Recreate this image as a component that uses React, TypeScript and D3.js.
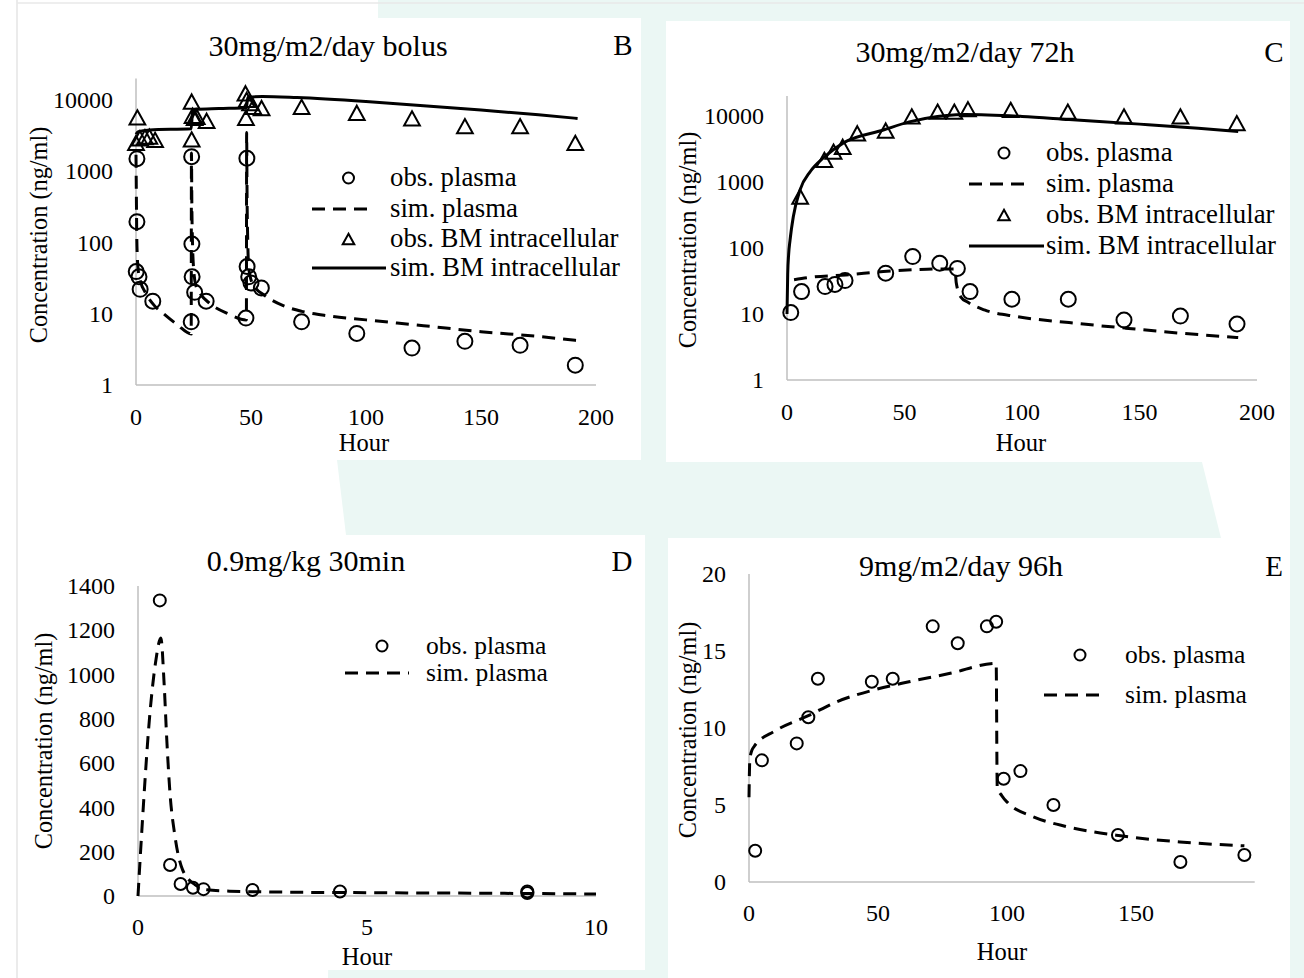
import React from "react";
import * as d3 from "d3";

type Pt = [number, number];

const FONT = "'Liberation Serif', 'Times New Roman', Times, serif";
const TEAL = "#ebf7f4";
const AXIS_COLOR = "#bfbfbf";

// ---------- Panel B: 30mg/m2/day bolus ----------
const bolusObsPlasma: Pt[] = [
  [0.4, 1500], [0.4, 196], [0.1, 39], [1.3, 33], [1.8, 22], [7.3, 15],
  [24, 7.7], [24.2, 1600], [24.3, 95], [24.4, 33], [25.5, 20], [30.5, 15],
  [47.8, 8.7], [48.2, 1520], [48.3, 46], [49, 33], [50, 27], [54.5, 23],
  [72, 7.7], [96, 5.3], [120, 3.3], [143, 4.1], [167, 3.6], [191, 1.9],
];
const bolusSimPlasma: Pt[] = [
  [0, 1700], [0.15, 500], [0.3, 150], [0.6, 60], [1, 40], [2, 28], [4, 20], [8, 13], [12, 10], [18, 7], [24, 5.2],
  [24.1, 1800], [24.3, 300], [24.6, 90], [25, 45], [26, 25], [28, 19], [32, 14], [40, 10], [48, 8.2],
  [48.1, 3500], [48.3, 400], [48.6, 100], [49, 45], [50, 30], [52, 23], [56, 18], [64, 13], [72, 10.8],
  [84, 9.3], [100, 8.2], [125, 6.8], [150, 5.6], [175, 4.8], [192, 4.2],
];
const bolusObsBM: Pt[] = [
  [0.6, 5700], [0, 2500], [1.7, 2900], [3.9, 3000], [5.8, 3050], [8.3, 2750],
  [24.2, 9500], [24.2, 2800], [24.6, 6000], [25.5, 5600], [26.4, 5800], [30.7, 5100],
  [47.6, 12400], [48.1, 10000], [49.6, 9000], [51, 8000], [47.8, 5600], [54.6, 7700],
  [72, 8000], [96, 6600], [120, 5500], [143, 4300], [167, 4300], [191, 2500],
];
const bolusSimBM: Pt[] = [
  [0, 3300], [1, 3600], [6, 3800], [24, 3950], [24.6, 7000], [26, 7400], [36, 7600], [48, 7800],
  [48.6, 10800], [55, 11200], [70, 10800], [100, 9500], [125, 8300], [150, 7200], [175, 6200], [192, 5500],
];

// ---------- Panel C: 30mg/m2/day 72h ----------
const c72ObsPlasma: Pt[] = [
  [1.6, 10.5], [6.2, 21.8], [16.2, 26], [20.4, 28], [24.7, 32], [42, 41.5], [53.5, 74], [65, 58.6],
  [72.5, 49], [77.9, 21.8], [95.7, 16.7], [119.7, 16.7], [143.4, 8.1], [167.4, 9.3], [191.5, 7.05],
];
const c72SimPlasma: Pt[] = [
  [3, 33], [10, 36], [25, 39], [41, 44], [55, 47], [64, 48], [71.5, 48], [72, 30], [74, 18], [77, 15],
  [84, 11.5], [98, 9.1], [120, 7.4], [144, 6.1], [168, 5.1], [192, 4.4],
];
const c72ObsBM: Pt[] = [
  [5.6, 600], [15.9, 2150], [19.8, 2880], [23.7, 3400], [29.9, 5450], [42, 6000], [53.1, 9800],
  [64.1, 11600], [71.2, 11600], [77, 12600], [95.2, 12300], [119.5, 11600], [143.4, 9800],
  [167.4, 9800], [191.4, 7740],
];
const c72SimBM: Pt[] = [
  [0, 10], [0.3, 40], [0.7, 80], [1.3, 132], [2.7, 300], [5.5, 750], [10, 1450], [15.4, 2300],
  [24, 3900], [41, 6100], [52, 8100], [64, 9800], [72, 10400], [76, 10500], [100, 9800],
  [120, 8800], [150, 7500], [175, 6500], [192, 5800],
];

// ---------- Panel D: 0.9mg/kg 30min ----------
const d30ObsPlasma: Pt[] = [
  [0.476, 1335], [0.7, 140], [0.93, 54], [1.2, 37], [1.43, 31], [2.5, 27], [4.41, 20], [8.5, 20], [8.5, 13],
];
const d30SimPlasma: Pt[] = [
  [0, 0], [0.1, 350], [0.25, 800], [0.38, 1050], [0.5, 1165], [0.57, 960], [0.63, 700], [0.7, 460],
  [0.8, 280], [0.97, 120], [1.25, 50], [1.5, 28], [2, 22], [3, 18], [5, 15], [8, 12], [10, 9],
];

// ---------- Panel E: 9mg/m2/day 96h ----------
const e96ObsPlasma: Pt[] = [
  [2.4, 2.03], [5, 7.9], [18.5, 9.0], [23, 10.7], [26.7, 13.2], [47.6, 13.0], [55.7, 13.2], [71.2, 16.6],
  [80.9, 15.5], [92.2, 16.6], [95.8, 16.9], [98.7, 6.7], [105.2, 7.2], [118, 5.0], [143, 3.05],
  [167.2, 1.3], [192, 1.75],
];
const e96SimPlasma: Pt[] = [
  [0, 5.5], [0.3, 7.9], [1, 8.5], [2, 8.8], [10, 9.8], [23, 10.8], [34, 11.7], [49, 12.5], [62, 13.0],
  [78, 13.55], [95.8, 14.2], [96.2, 6.2], [98, 5.6], [100.6, 5.1], [110, 4.25], [123, 3.6], [144, 3.0],
  [167, 2.6], [192, 2.35],
];

// ---------- tick labels ----------
const logTicks = [1, 10, 100, 1000, 10000];
const hourTicks200 = [0, 50, 100, 150, 200];
const hourTicksD = [0, 5, 10];
const concTicksD = [0, 200, 400, 600, 800, 1000, 1200, 1400];
const hourTicksE = [0, 50, 100, 150];
const concTicksE = [0, 5, 10, 15, 20];

const legendLabels4 = ["obs. plasma", "sim. plasma", "obs. BM intracellular", "sim. BM intracellular"];
const legendLabels2 = ["obs. plasma", "sim. plasma"];

type Kind = "circle" | "triangle" | "dash" | "solid";

interface SeriesDef { kind: Kind; data: Pt[] }

interface PanelDef {
  xDomain: [number, number];
  xRange: [number, number];
  log: boolean;
  yDomain: [number, number];
  yRange: [number, number];
  xTicks: number[];
  yTicks: number[];
  xTickY: number;
  title: string;
  titleX: number;
  titleY: number;
  letter: string;
  letterX: number;
  hourX: number;
  hourY: number;
  yTitleX: number;
  yTitleY: number;
  series: SeriesDef[];
  markerR: number;
  legendKinds: Kind[];
  legendLabels: string[];
  legendRows: number[];
  legendMarkerX: number;
  legendTextX: number;
  legendDash: [number, number];
  legendSolid: [number, number];
  legendFont: number;
}

function Marker({ kind, x, y, r }: { kind: Kind; x: number; y: number; r: number }) {
  if (kind === "circle") {
    return <circle cx={x} cy={y} r={r} fill="none" stroke="#000" strokeWidth={2} />;
  }
  const w = r * 2.1;
  const h = r * 1.9;
  const pts = `${x},${y - h / 2} ${x + w / 2},${y + h / 2} ${x - w / 2},${y + h / 2}`;
  return <polygon points={pts} fill="none" stroke="#000" strokeWidth={2} strokeLinejoin="miter" />;
}

function Panel({ p }: { p: PanelDef }) {
  const x = d3.scaleLinear().domain(p.xDomain).range(p.xRange);
  const y = p.log
    ? d3.scaleLog().domain(p.yDomain).range(p.yRange)
    : d3.scaleLinear().domain(p.yDomain).range(p.yRange);
  const line = d3
    .line<Pt>()
    .x((d) => x(d[0]))
    .y((d) => y(d[1]))
    .curve(d3.curveMonotoneX);
  const x0 = p.xRange[0];
  const yBottom = p.yRange[0];
  const yTop = p.yRange[1];
  const tickFont = 24;
  return (
    <g style={{ fontFamily: FONT }} fill="#000">
      {/* axes */}
      <line x1={x0} x2={x0} y1={yTop} y2={yBottom} stroke={AXIS_COLOR} strokeWidth={1.5} />
      <line x1={x0} x2={p.xRange[1]} y1={yBottom} y2={yBottom} stroke={AXIS_COLOR} strokeWidth={1.5} />
      {p.yTicks.map((t) => (
        <text key={"y" + t} x={x0 - 23} y={y(t)} dy="0.34em" textAnchor="end" fontSize={tickFont}>
          {String(t)}
        </text>
      ))}
      {p.xTicks.map((t) => (
        <text key={"x" + t} x={x(t)} y={p.xTickY} dy="0.34em" textAnchor="middle" fontSize={tickFont}>
          {String(t)}
        </text>
      ))}
      <text x={p.hourX} y={p.hourY} dy="0.34em" textAnchor="middle" fontSize={24.5}>Hour</text>
      <text
        transform={`translate(${p.yTitleX},${p.yTitleY}) rotate(-90)`}
        dy="0.34em"
        textAnchor="middle"
        fontSize={24.3}
      >
        Concentration (ng/ml)
      </text>
      <text x={p.titleX} y={p.titleY} dy="0.34em" textAnchor="middle" fontSize={30}>{p.title}</text>
      <text x={p.letterX} y={p.titleY} dy="0.34em" textAnchor="middle" fontSize={29}>{p.letter}</text>

      {/* lines */}
      {p.series
        .filter((s) => s.kind === "dash" || s.kind === "solid")
        .map((s, i) => (
          <path
            key={"l" + i}
            d={line(s.data) || ""}
            fill="none"
            stroke="#000"
            strokeWidth={3}
            strokeDasharray={s.kind === "dash" ? "13 8" : undefined}
          />
        ))}
      {/* markers */}
      {p.series
        .filter((s) => s.kind === "circle" || s.kind === "triangle")
        .map((s, i) => (
          <g key={"m" + i}>
            {s.data.map((d, j) => (
              <Marker key={j} kind={s.kind} x={x(d[0])} y={y(d[1])} r={p.markerR} />
            ))}
          </g>
        ))}

      {/* legend */}
      {p.legendKinds.map((k, i) => {
        const ry = p.legendRows[i];
        return (
          <g key={"lg" + i}>
            {k === "circle" || k === "triangle" ? (
              <Marker kind={k} x={p.legendMarkerX} y={ry} r={5.5} />
            ) : k === "dash" ? (
              <line x1={p.legendDash[0]} x2={p.legendDash[1]} y1={ry} y2={ry} stroke="#000" strokeWidth={3} strokeDasharray="13 8" />
            ) : (
              <line x1={p.legendSolid[0]} x2={p.legendSolid[1]} y1={ry} y2={ry} stroke="#000" strokeWidth={3} />
            )}
            <text x={p.legendTextX} y={ry} dy="0.3em" fontSize={p.legendFont}>{p.legendLabels[i]}</text>
          </g>
        );
      })}
    </g>
  );
}

const panels: PanelDef[] = [
  {
    xDomain: [0, 200], xRange: [136, 596], log: true, yDomain: [1, 20000], yRange: [385, 78.5],
    xTicks: hourTicks200, yTicks: logTicks, xTickY: 417,
    title: "30mg/m2/day bolus", titleX: 328, titleY: 45.5, letter: "B", letterX: 623,
    hourX: 364, hourY: 443, yTitleX: 39, yTitleY: 235,
    series: [
      { kind: "dash", data: bolusSimPlasma },
      { kind: "solid", data: bolusSimBM },
      { kind: "circle", data: bolusObsPlasma },
      { kind: "triangle", data: bolusObsBM },
    ],
    markerR: 7.5,
    legendKinds: ["circle", "dash", "triangle", "solid"], legendLabels: legendLabels4,
    legendRows: [178, 209, 239, 268], legendMarkerX: 348.5, legendTextX: 390,
    legendDash: [312, 369], legendSolid: [312, 386], legendFont: 26.8,
  },
  {
    xDomain: [0, 200], xRange: [787, 1257], log: true, yDomain: [1, 20000], yRange: [380, 96],
    xTicks: hourTicks200, yTicks: logTicks, xTickY: 412,
    title: "30mg/m2/day 72h", titleX: 965, titleY: 52, letter: "C", letterX: 1274,
    hourX: 1021, hourY: 443, yTitleX: 687.5, yTitleY: 240,
    series: [
      { kind: "dash", data: c72SimPlasma },
      { kind: "solid", data: c72SimBM },
      { kind: "circle", data: c72ObsPlasma },
      { kind: "triangle", data: c72ObsBM },
    ],
    markerR: 7.5,
    legendKinds: ["circle", "dash", "triangle", "solid"], legendLabels: legendLabels4,
    legendRows: [153, 184, 215, 246], legendMarkerX: 1004, legendTextX: 1046,
    legendDash: [969, 1029], legendSolid: [969, 1044], legendFont: 26.8,
  },
  {
    xDomain: [0, 10], xRange: [138, 596], log: false, yDomain: [0, 1400], yRange: [896, 586],
    xTicks: hourTicksD, yTicks: concTicksD, xTickY: 927,
    title: "0.9mg/kg 30min", titleX: 306, titleY: 561, letter: "D", letterX: 622,
    hourX: 367, hourY: 957, yTitleX: 44, yTitleY: 741,
    series: [
      { kind: "dash", data: d30SimPlasma },
      { kind: "circle", data: d30ObsPlasma },
    ],
    markerR: 6,
    legendKinds: ["circle", "dash"], legendLabels: legendLabels2,
    legendRows: [646, 673], legendMarkerX: 382, legendTextX: 426,
    legendDash: [345, 409], legendSolid: [345, 409], legendFont: 25.5,
  },
  {
    xDomain: [0, 196], xRange: [749, 1254.7], log: false, yDomain: [0, 20], yRange: [882, 574],
    xTicks: hourTicksE, yTicks: concTicksE, xTickY: 913,
    title: "9mg/m2/day 96h", titleX: 961, titleY: 566, letter: "E", letterX: 1274,
    hourX: 1002, hourY: 952, yTitleX: 687.5, yTitleY: 730,
    series: [
      { kind: "dash", data: e96SimPlasma },
      { kind: "circle", data: e96ObsPlasma },
    ],
    markerR: 6,
    legendKinds: ["circle", "dash"], legendLabels: legendLabels2,
    legendRows: [655, 695], legendMarkerX: 1080, legendTextX: 1125,
    legendDash: [1044, 1107], legendSolid: [1044, 1107], legendFont: 25.5,
  },
];

export default function App() {
  return (
    <svg
      width={1304}
      height={978}
      viewBox="0 0 1304 978"
      style={{ position: "absolute", left: 0, top: 0, display: "block", fontFamily: FONT }}
    >
      <rect x={0} y={0} width={1304} height={978} fill="#fff" />
      {/* watermark background */}
      <polygon points="378,0 1304,0 1304,978 328,978 337,460 640,460 640,20 378,20" fill={TEAL} />
      {/* white panel backgrounds */}
      <rect x={17} y={18} width={624} height={442} fill="#fff" />
      <rect x={666} y={21} width={624} height={441} fill="#fff" />
      <polygon points="17,535 346,535 645,535 645,970 17,970" fill="#fff" />
      <rect x={668} y={538} width={622} height={440} fill="#fff" />
      <polygon points="17,460 337,460 346,535 17,535" fill="#fff" />
      <polygon points="17,970 328,970 328,978 17,978" fill="#fff" />
      <polygon points="1202,462 1290,462 1290,538 1221,538" fill="#fff" />
      <line x1={17} x2={17} y1={0} y2={978} stroke="#e4e4e4" strokeWidth={1.5} />
      <line x1={17} x2={1304} y1={3} y2={3} stroke="#e8e8e8" strokeWidth={1.5} />
      {panels.map((p, i) => (
        <Panel key={i} p={p} />
      ))}
    </svg>
  );
}
